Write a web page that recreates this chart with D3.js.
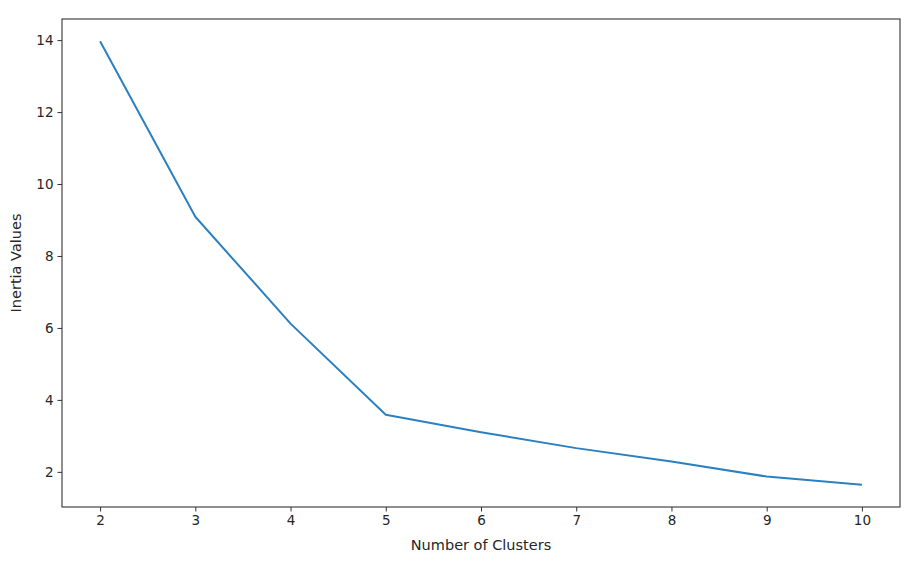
<!DOCTYPE html>
<html>
<head>
<meta charset="utf-8">
<script src="https://cdn.jsdelivr.net/npm/d3@7"></script>
<style>
  body { margin: 0; background: #fff; }
  text { font-family: "DejaVu Sans", sans-serif; fill: #262626; }
  .axis path, .axis line { stroke: #333; }
</style>
</head>
<body>
<div id="chart"></div>
<script>
// elbow curve values
const clusters = [2, 3, 4, 5, 6, 7, 8, 9, 10];
const inertia = [13.97, 9.09, 6.12, 3.59, 3.10, 2.66, 2.29, 1.87, 1.64];
const xTicks = [2, 3, 4, 5, 6, 7, 8, 9, 10];
const yTicks = [2, 4, 6, 8, 10, 12, 14];

const W = 924, H = 566;
const MARGIN = {LEFT: 62, RIGHT: 24, TOP: 19, BOTTOM: 59};
const WIDTH = W - MARGIN.LEFT - MARGIN.RIGHT;
const HEIGHT = H - MARGIN.TOP - MARGIN.BOTTOM;

const svg = d3.select("#chart").append("svg")
    .attr("width", W)
    .attr("height", H);

const g = svg.append("g")
    .attr("transform", `translate(${MARGIN.LEFT}, ${MARGIN.TOP})`);

// matplotlib-style 5% padding on both axes
const xMin = d3.min(clusters), xMax = d3.max(clusters);
const yMin = d3.min(inertia), yMax = d3.max(inertia);
const xPad = (xMax - xMin) * 0.05, yPad = (yMax - yMin) * 0.05;

const x = d3.scaleLinear().domain([xMin - xPad, xMax + xPad]).range([0, WIDTH]);
const y = d3.scaleLinear().domain([yMin - yPad, yMax + yPad]).range([HEIGHT, 0]);

g.append("g")
    .attr("class", "x axis")
    .attr("transform", `translate(0, ${HEIGHT})`)
    .call(d3.axisBottom(x).tickValues(xTicks).tickSize(4.5).tickPadding(4).tickSizeOuter(0));

g.append("g")
    .attr("class", "y axis")
    .call(d3.axisLeft(y).tickValues(yTicks).tickSize(4.5).tickPadding(4).tickSizeOuter(0));

g.selectAll(".axis text").attr("font-size", 13.5).attr("font-family", "DejaVu Sans");
g.selectAll(".axis .domain").remove();

// frame
g.append("rect")
    .attr("width", WIDTH)
    .attr("height", HEIGHT)
    .attr("fill", "none")
    .attr("stroke", "#333")
    .attr("stroke-width", 1.1);

g.append("path")
    .datum(clusters.map((c, i) => ({c, v: inertia[i]})))
    .attr("fill", "none")
    .attr("stroke", "#2b80c1")
    .attr("stroke-width", 2)
    .attr("stroke-linejoin", "round")
    .attr("d", d3.line().x(d => x(d.c)).y(d => y(d.v)));

svg.append("text")
    .attr("x", MARGIN.LEFT + WIDTH / 2)
    .attr("y", 550)
    .attr("text-anchor", "middle")
    .attr("font-size", 14.5)
    .text("Number of Clusters");

svg.append("text")
    .attr("transform", `translate(21, ${MARGIN.TOP + HEIGHT / 2}) rotate(-90)`)
    .attr("text-anchor", "middle")
    .attr("font-size", 14.5)
    .text("Inertia Values");
</script>
</body>
</html>
